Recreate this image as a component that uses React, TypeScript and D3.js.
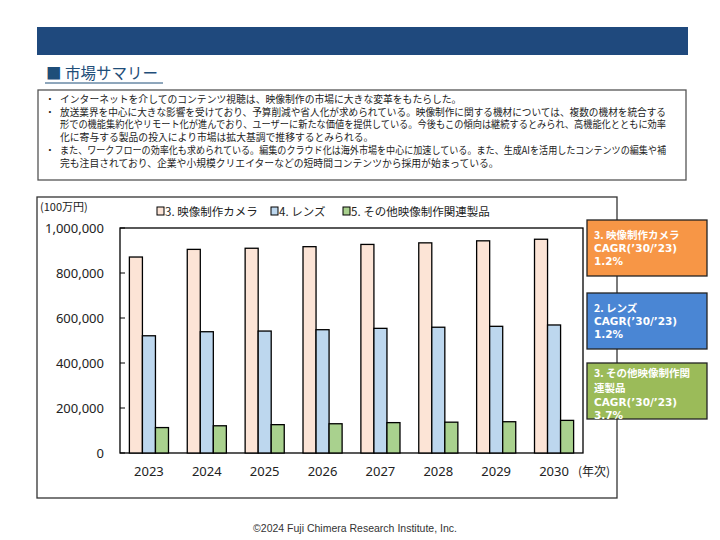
import * as d3 from "d3";

const YEARS = ["2023", "2024", "2025", "2026", "2027", "2028", "2029", "2030"];
const SERIES = ["3. 映像制作カメラ", "4. レンズ", "5. その他映像制作関連製品"];
const CAMERA = [871000, 905000, 910000, 917000, 927000, 934000, 943000, 950000];
const LENS = [521000, 539000, 542000, 548000, 554000, 559000, 563000, 569000];
const OTHER = [113000, 121000, 126000, 130000, 135000, 137000, 139000, 145000];
const Y_TICKS = [0, 200000, 400000, 600000, 800000, 1000000];
const FILLS = ["#fce4d6", "#bdd7ee", "#a9d18e"];

const CAGR_BOXES = [
  { lines: ["3. 映像制作カメラ", "CAGR(’30/’23)", "1.2%"], color: "#f79646" },
  { lines: ["2. レンズ", "CAGR(’30/’23)", "1.2%"], color: "#4a86d4" },
  { lines: ["3. その他映像制作関", "連製品", "CAGR(’30/’23)", "3.7%"], color: "#9bbb59" },
];

const SUMMARY = [
  { bullet: true, text: "インターネットを介してのコンテンツ視聴は、映像制作の市場に大きな変革をもたらした。", fit: false },
  { bullet: true, text: "放送業界を中心に大きな影響を受けており、予算削減や省人化が求められている。映像制作に関する機材については、複数の機材を統合する", fit: true },
  { bullet: false, text: "形での機能集約化やリモート化が進んでおり、ユーザーに新たな価値を提供している。今後もこの傾向は継続するとみられ、高機能化とともに効率", fit: true },
  { bullet: false, text: "化に寄与する製品の投入により市場は拡大基調で推移するとみられる。", fit: false },
  { bullet: true, text: "また、ワークフローの効率化も求められている。編集のクラウド化は海外市場を中心に加速している。また、生成AIを活用したコンテンツの編集や補", fit: true },
  { bullet: false, text: "完も注目されており、企業や小規模クリエイターなどの短時間コンテンツから採用が始まっている。", fit: false },
];

const JP = "'Noto Sans CJK JP', 'Noto Sans', sans-serif";
const LATIN_BOLD = "'DejaVu Sans', Verdana, sans-serif";
const PLOT = { left: 120, right: 583, top: 228, bottom: 453 };

// plain ASCII lines in the callouts use a compact-metric font
const isLatin = (s: string) => /^[\x20-\x7e’%]+$/.test(s);

// baselines for the callout lines: two CJK lines in a row need more room
const lineYs = (lines: string[], start: number) => {
  const ys: number[] = [];
  lines.forEach((ln, j) => {
    if (j === 0) ys.push(start);
    else {
      const both = !isLatin(ln) && !isLatin(lines[j - 1]);
      ys.push(ys[j - 1] + (both ? 15.3 : 13.2));
    }
  });
  return ys;
};

export default function App() {
  const values = [CAMERA, LENS, OTHER];
  const x0 = d3.scaleBand().domain(YEARS).range([PLOT.left, PLOT.right]);
  const x1 = d3
    .scaleBand()
    .domain(SERIES)
    .range([0, x0.bandwidth()])
    .paddingInner(0)
    .paddingOuter(0.72);
  const y = d3.scaleLinear().domain([0, 1000000]).range([PLOT.bottom, PLOT.top]);
  const fmt = d3.format(",");

  return (
    <svg width={720} height={540} style={{ position: "absolute", left: 0, top: 0, background: "#fff" }}>
      {/* header band */}
      <rect x={37} y={27} width={651} height={28} fill="#1f497d" />
      <text x={46} y={79} fontFamily={JP} fontSize={15.5} fill="#1f4e79">
        ■ 市場サマリー
      </text>
      <line x1={45} x2={163} y1={83} y2={83} stroke="#1f4e79" strokeWidth={1} />

      {/* summary box */}
      <rect x={38} y={90} width={648} height={90} fill="#fff" stroke="#555" strokeWidth={1.3} />
      {SUMMARY.map((l, i) => (
        <g key={i} fontFamily={JP} fontSize={9.8} fill="#222">
          {l.bullet && (
            <text x={45} y={103 + i * 12.7}>・</text>
          )}
          <text
            x={60}
            y={103 + i * 12.7}
            {...(l.fit ? { textLength: 606, lengthAdjust: "spacingAndGlyphs" } : {})}
          >
            {l.text}
          </text>
        </g>
      ))}

      {/* chart frame */}
      <rect x={37} y={197} width={580} height={301} fill="none" stroke="#333" strokeWidth={1.3} />
      <text x={40} y={211} fontFamily={JP} fontSize={11} fill="#222">(100万円)</text>

      {/* legend */}
      {SERIES.map((s, i) => {
        const lx = [157, 271, 343][i];
        return (
          <g key={s}>
            <rect x={lx} y={207} width={7} height={8} fill={FILLS[i]} stroke="#000" strokeWidth={1} />
            <text x={lx + 8} y={216} fontFamily={JP} fontSize={11.5} fill="#222">{s}</text>
          </g>
        );
      })}

      {/* plot area */}
      <rect
        x={PLOT.left}
        y={PLOT.top}
        width={PLOT.right - PLOT.left}
        height={PLOT.bottom - PLOT.top}
        fill="#fff"
        stroke="#000"
        strokeWidth={1.3}
      />
      {Y_TICKS.map((t) => (
        <g key={t}>
          <line x1={PLOT.left} x2={PLOT.left + 5} y1={y(t)} y2={y(t)} stroke="#000" strokeWidth={1} />
          <text
            x={104}
            y={y(t)}
            dy="0.35em"
            textAnchor="end"
            fontFamily="'Noto Sans', sans-serif"
            fontSize={13}
            fill="#222"
          >
            {fmt(t)}
          </text>
        </g>
      ))}

      {YEARS.map((yr, gi) => (
        <g key={yr} transform={`translate(${x0(yr)},0)`}>
          {SERIES.map((s, si) => {
            const v = values[si][gi];
            return (
              <rect
                key={s}
                x={x1(s)}
                y={y(v)}
                width={x1.bandwidth()}
                height={y(0) - y(v)}
                fill={FILLS[si]}
                stroke="#000"
                strokeWidth={1.3}
              />
            );
          })}
          <text
            x={x0.bandwidth() / 2}
            y={476}
            textAnchor="middle"
            fontFamily="'Noto Sans', sans-serif"
            fontSize={13}
            fill="#222"
          >
            {yr}
          </text>
        </g>
      ))}
      <text x={578} y={476} fontFamily={JP} fontSize={12} fill="#222">(年次)</text>

      {/* CAGR callouts */}
      {CAGR_BOXES.map((b, i) => {
        const top = [220, 293, 363][i];
        const ys = lineYs(b.lines, top + [19, 19, 14][i]);
        return (
          <g key={i}>
            <rect x={587} y={top} width={120} height={56} fill={b.color} stroke="#222" strokeWidth={1.3} />
            <text fontSize={10.5} fontWeight="bold" fill="#fff">
              {b.lines.map((ln, j) => (
                <tspan
                  key={j}
                  x={594}
                  y={ys[j]}
                  fontFamily={isLatin(ln) ? LATIN_BOLD : JP}
                >
                  {ln}
                </tspan>
              ))}
            </text>
          </g>
        );
      })}

      <text
        x={355}
        y={532}
        textAnchor="middle"
        fontFamily="'Liberation Sans', Arial, sans-serif"
        fontSize={10.5}
        fill="#333"
      >
        ©2024 Fuji Chimera Research Institute, Inc.
      </text>
    </svg>
  );
}
